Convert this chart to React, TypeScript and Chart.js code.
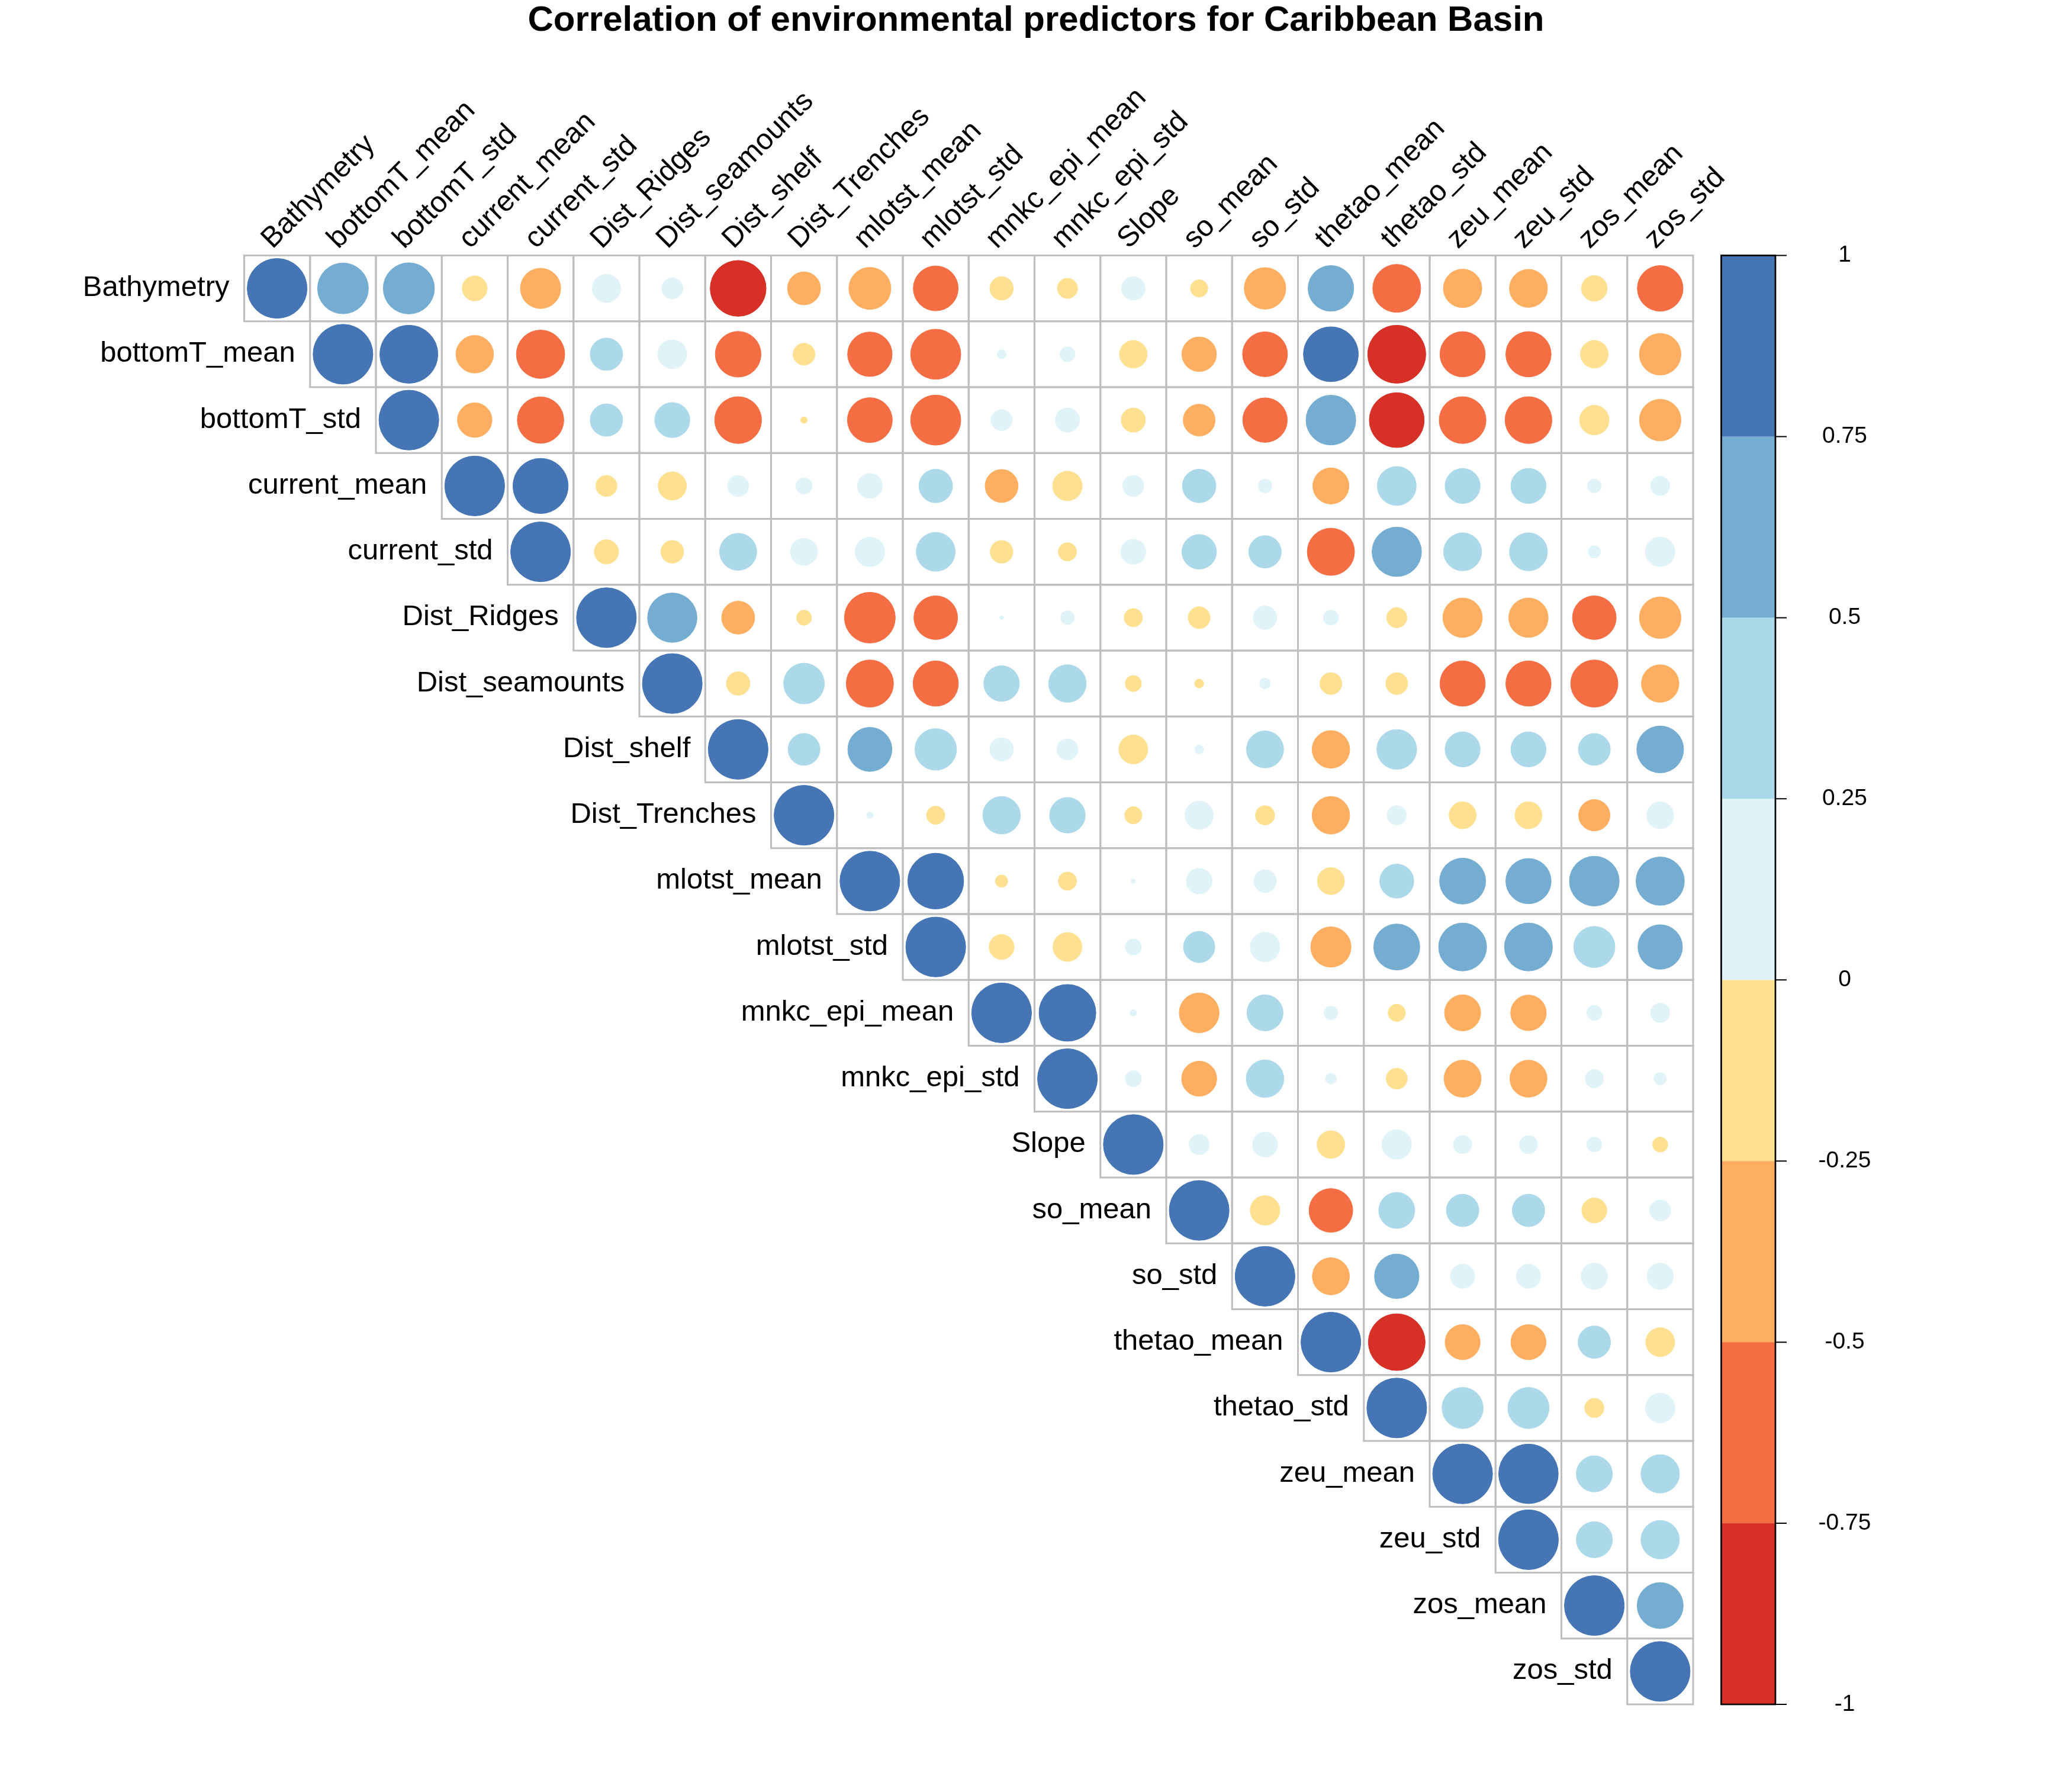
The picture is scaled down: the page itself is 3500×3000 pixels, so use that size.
import React, { useEffect, useRef } from "react";
import { Chart, registerables } from "chart.js";

Chart.register(...registerables);

const FONT = "'Liberation Sans', Arial, Helvetica, sans-serif";

const chartTitle = "Correlation of environmental predictors for Caribbean Basin";

const variables = [
  "Bathymetry", "bottomT_mean", "bottomT_std", "current_mean", "current_std",
  "Dist_Ridges", "Dist_seamounts", "Dist_shelf", "Dist_Trenches", "mlotst_mean",
  "mlotst_std", "mnkc_epi_mean", "mnkc_epi_std", "Slope", "so_mean", "so_std",
  "thetao_mean", "thetao_std", "zeu_mean", "zeu_std", "zos_mean", "zos_std",
];

// Upper triangle: row i holds correlations with columns i..21
const rowBathymetry = [1, 0.72, 0.73, -0.17, -0.45, 0.22, 0.12, -0.87, -0.30, -0.49, -0.56, -0.15, -0.11, 0.15, -0.08, -0.48, 0.58, -0.64, -0.41, -0.40, -0.18, -0.58];
const rowBottomTMean = [1, 0.94, -0.39, -0.65, 0.29, 0.23, -0.58, -0.13, -0.55, -0.70, 0.02, 0.06, -0.21, -0.33, -0.56, 0.84, -0.94, -0.57, -0.57, -0.21, -0.48];
const rowBottomTStd = [1, -0.33, -0.60, 0.29, 0.34, -0.61, -0.01, -0.56, -0.70, 0.12, 0.16, -0.16, -0.28, -0.55, 0.69, -0.84, -0.61, -0.61, -0.24, -0.48];
const rowCurrentMean = [1, 0.85, -0.12, -0.22, 0.12, 0.07, 0.17, 0.31, -0.30, -0.24, 0.12, 0.31, 0.05, -0.36, 0.42, 0.34, 0.34, 0.05, 0.10];
const rowCurrentStd = [1, -0.16, -0.14, 0.38, 0.20, 0.24, 0.42, -0.14, -0.09, 0.17, 0.33, 0.29, -0.62, 0.68, 0.40, 0.40, 0.04, 0.24];
const rowDistRidges = [1, 0.68, -0.30, -0.06, -0.72, -0.53, 0.003, 0.05, -0.09, -0.13, 0.15, 0.06, -0.11, -0.43, -0.43, -0.53, -0.48];
const rowDistSeamounts = [1, -0.15, 0.46, -0.62, -0.57, 0.35, 0.39, -0.07, -0.02, 0.03, -0.13, -0.13, -0.57, -0.57, -0.62, -0.39];
const rowDistShelf = [1, 0.28, 0.54, 0.48, 0.15, 0.12, -0.23, 0.02, 0.38, -0.39, 0.44, 0.34, 0.34, 0.28, 0.61];
const rowDistTrenches = [1, 0.01, -0.09, 0.39, 0.35, -0.08, 0.22, -0.10, -0.39, 0.10, -0.20, -0.20, -0.27, 0.20];
const rowMlotstMean = [1, 0.87, -0.04, -0.09, 0.004, 0.18, 0.14, -0.20, 0.32, 0.59, 0.57, 0.69, 0.65];
const rowMlotstStd = [1, -0.17, -0.23, 0.07, 0.27, 0.24, -0.45, 0.59, 0.64, 0.64, 0.47, 0.55];
const rowMnkcEpiMean = [1, 0.90, 0.01, -0.44, 0.36, 0.05, -0.08, -0.36, -0.35, 0.06, 0.10];
const rowMnkcEpiStd = [1, 0.07, -0.34, 0.39, 0.03, -0.12, -0.38, -0.38, 0.09, 0.04];
const rowSlope = [1, 0.11, 0.17, -0.21, 0.24, 0.09, 0.09, 0.06, -0.06];
const rowSoMean = [1, -0.24, -0.53, 0.36, 0.29, 0.29, -0.17, 0.12];
const rowSoStd = [1, -0.38, 0.55, 0.16, 0.16, 0.19, 0.19];
const rowThetaoMean = [1, -0.90, -0.34, -0.34, 0.29, -0.23];
const rowThetaoStd = [1, 0.47, 0.47, -0.10, 0.24];
const rowZeuMean = [1, 0.99, 0.36, 0.41];
const rowZeuStd = [1, 0.36, 0.41];
const rowZosMean = [1, 0.59];
const rowZosStd = [1];

const corrRows = [
  rowBathymetry, rowBottomTMean, rowBottomTStd, rowCurrentMean, rowCurrentStd,
  rowDistRidges, rowDistSeamounts, rowDistShelf, rowDistTrenches, rowMlotstMean,
  rowMlotstStd, rowMnkcEpiMean, rowMnkcEpiStd, rowSlope, rowSoMean, rowSoStd,
  rowThetaoMean, rowThetaoStd, rowZeuMean, rowZeuStd, rowZosMean, rowZosStd,
];

const binColors = ["#D73027", "#F46D43", "#FDAE61", "#FEE090", "#E0F3F8", "#ABD9E9", "#74ADD1", "#4575B4"];
const legendTickValues = [1, 0.75, 0.5, 0.25, 0, -0.25, -0.5, -0.75, -1];
const legendTickLabels = ["1", "0.75", "0.5", "0.25", "0", "-0.25", "-0.5", "-0.75", "-1"];

function colorFor(v: number): string {
  const idx = Math.max(0, Math.min(7, Math.floor((v + 1) / 0.25)));
  return binColors[idx];
}

export default function App() {
  const ref = useRef<HTMLCanvasElement>(null);

  useEffect(() => {
    const canvas = ref.current;
    if (!canvas) return;
    const n = variables.length;
    const points: { x: number; y: number; v: number }[] = [];
    corrRows.forEach((row, i) => {
      row.forEach((v, k) => points.push({ x: i + k, y: i, v }));
    });

    const cellSize = (chart: any) => {
      const xs = chart.scales?.x;
      if (!xs) return 111.25;
      return Math.abs(xs.getPixelForValue(1) - xs.getPixelForValue(0));
    };

    const radiusFor = (ctx: any) => {
      const raw = ctx.raw;
      if (!raw) return 0;
      return 0.45 * cellSize(ctx.chart) * Math.sqrt(Math.abs(raw.v)) + 0.5;
    };

    const decor = {
      id: "corrDecor",
      beforeDatasetsDraw(chart: any) {
        const ctx = chart.ctx;
        const xs = chart.scales.x;
        const ys = chart.scales.y;
        const c = cellSize(chart);
        ctx.save();
        ctx.strokeStyle = "#BEBEBE";
        ctx.lineWidth = 3;
        for (let i = 0; i < n; i++) {
          for (let j = i; j < n; j++) {
            const l = xs.getPixelForValue(j - 0.5);
            const t = ys.getPixelForValue(i - 0.5);
            ctx.strokeRect(l, t, c, c);
          }
        }
        ctx.restore();
      },
      afterDraw(chart: any) {
        const ctx = chart.ctx;
        const xs = chart.scales.x;
        const ys = chart.scales.y;
        const gridTop = ys.getPixelForValue(-0.5);
        const gridBottom = ys.getPixelForValue(n - 0.5);
        ctx.save();
        ctx.fillStyle = "#000";
        // title
        ctx.font = `bold 60px ${FONT}`;
        ctx.textAlign = "center";
        ctx.textBaseline = "alphabetic";
        ctx.fillText(chartTitle, 1750, 52);
        // row labels
        ctx.font = `49px ${FONT}`;
        ctx.textAlign = "right";
        for (let i = 0; i < n; i++) {
          const xl = xs.getPixelForValue(i - 0.5) - 25;
          const yc = ys.getPixelForValue(i);
          ctx.fillText(variables[i], xl, yc + 13);
        }
        // column labels rotated
        ctx.textAlign = "left";
        for (let j = 0; j < n; j++) {
          const cx = xs.getPixelForValue(j);
          ctx.save();
          ctx.translate(cx - 8, gridTop - 10);
          ctx.rotate(-Math.PI / 4);
          ctx.fillText(variables[j], 0, 0);
          ctx.restore();
        }
        // color legend
        const lx0 = 2907.5;
        const lx1 = 2999;
        const vy = (v: number) => gridBottom - ((v + 1) / 2) * (gridBottom - gridTop);
        for (let k = 0; k < 8; k++) {
          const a = vy(-1 + 0.25 * k);
          const b = vy(-1 + 0.25 * (k + 1));
          ctx.fillStyle = binColors[k];
          ctx.fillRect(lx0, b, lx1 - lx0, a - b);
        }
        ctx.strokeStyle = "#000";
        ctx.lineWidth = 2.7;
        ctx.strokeRect(lx0, gridTop, lx1 - lx0, gridBottom - gridTop);
        ctx.lineWidth = 2;
        ctx.beginPath();
        legendTickValues.forEach((v) => {
          const yy = vy(v);
          ctx.moveTo(lx1, yy);
          ctx.lineTo(lx1 + 19, yy);
        });
        ctx.stroke();
        ctx.fillStyle = "#000";
        ctx.font = `39px ${FONT}`;
        ctx.textAlign = "center";
        ctx.textBaseline = "middle";
        legendTickValues.forEach((v, k) => {
          ctx.fillText(legendTickLabels[k], 3116, vy(v));
        });
        ctx.restore();
      },
    };

    const chart = new Chart(canvas, {
      type: "scatter",
      data: {
        datasets: [
          {
            data: points as any,
            pointRadius: radiusFor,
            pointHoverRadius: radiusFor,
            backgroundColor: (ctx: any) => (ctx.raw ? colorFor(ctx.raw.v) : "#000"),
            borderColor: (ctx: any) => (ctx.raw ? colorFor(ctx.raw.v) : "#000"),
            borderWidth: 1,
          } as any,
        ],
      },
      options: {
        responsive: false,
        animation: false,
        devicePixelRatio: 1,
        events: [],
        layout: { padding: { left: 412.5, top: 431.5, right: 640, bottom: 121 } },
        scales: {
          x: { type: "linear", min: -0.5, max: n - 0.5, display: false },
          y: { type: "linear", min: -0.5, max: n - 0.5, reverse: true, display: false },
        },
        plugins: {
          legend: { display: false },
          tooltip: { enabled: false },
          title: { display: false },
        },
      } as any,
      plugins: [decor],
    });
    return () => chart.destroy();
  }, []);

  return (
    <div style={{ position: "absolute", left: 0, top: 0, width: 3500, height: 3000, background: "#fff" }}>
      <canvas ref={ref} width={3500} height={3000} style={{ display: "block", width: 3500, height: 3000 }} />
    </div>
  );
}
